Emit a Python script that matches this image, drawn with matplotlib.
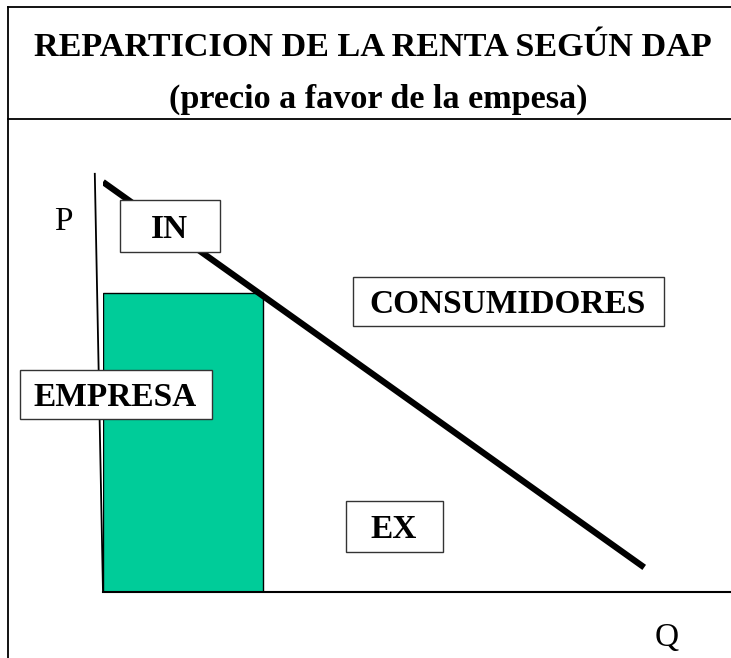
import matplotlib
matplotlib.use("Agg")
import matplotlib.pyplot as plt
from matplotlib.patches import Rectangle
from matplotlib.lines import Line2D

# ---- data (economic units) ----
demand_q = [0.0, 13.2]
demand_p = [10.0, 0.6]
price_star = 7.3
quantity_star = 3.9
axis_top = (-0.2, 10.2)

title_lines = ["REPARTICION DE LA RENTA SEGÚN DAP", "(precio a favor de la empesa)"]
labels = ["IN", "CONSUMIDORES", "EMPRESA", "EX"]

W, H = 731, 658
fig = plt.figure(figsize=(W / 100, H / 100), dpi=100)
fig.patch.set_facecolor("white")
FONT = "Liberation Serif"

def fx(px):
    return px / W

def fy(py):
    return 1 - py / H

# frame
fig.add_artist(Line2D([fx(8), fx(8)], [fy(7), fy(658)], color="black", lw=1.3))
fig.add_artist(Line2D([fx(8), fx(731)], [fy(7), fy(7)], color="black", lw=1.3))
fig.add_artist(Line2D([fx(8), fx(731)], [fy(119), fy(119)], color="black", lw=1.3))

fig.text(fx(373), fy(47), title_lines[0], ha="center", va="center",
         fontfamily=FONT, fontweight="bold", fontsize=24.6)
fig.text(fx(378), fy(99), title_lines[1], ha="center", va="center",
         fontfamily=FONT, fontweight="bold", fontsize=24.6)

# chart axes: origin at pixel (103, 592), 41 px per unit
ppu = 41.0
x0, y0 = 103, 592
ax = fig.add_axes([fx(x0), fy(y0), (W - x0) / W, (y0 - 120) / H])
ax.set_xlim(0, (W - x0) / ppu)
ax.set_ylim(0, (y0 - 120) / ppu)
ax.axis("off")

ax.add_patch(Rectangle((0, 0), quantity_star, price_star, facecolor="#00CC99",
                       edgecolor="black", lw=1.0, zorder=2))
ax.plot([axis_top[0], 0], [axis_top[1], 0], color="black", lw=1.3, clip_on=False, zorder=3)
ax.plot([0, (W - x0) / ppu], [0, 0], color="black", lw=1.5, clip_on=False, zorder=3)
ax.plot(demand_q, demand_p, color="black", lw=4.5, solid_capstyle="butt", zorder=3)

# label boxes (pixel boxes: x0, y0, x1, y1)
boxes = [(120, 200, 220, 252), (353, 277, 664, 326), (20, 370, 212, 419), (346, 501, 443, 552)]
for (bx0, by0, bx1, by1), lab in zip(boxes, labels):
    fig.add_artist(Rectangle((fx(bx0), fy(by1)), fx(bx1 - bx0), (by1 - by0) / H,
                             facecolor="white", edgecolor="#333333", lw=1.0, zorder=5))
    fig.text(fx((bx0 + bx1) / 2 - 1), fy((by0 + by1) / 2 + 3), lab, ha="center", va="center",
             fontfamily=FONT, fontweight="bold", fontsize=24, zorder=6)

fig.text(fx(63), fy(222), "P", ha="center", va="center", fontfamily=FONT, fontsize=24)
fig.text(fx(667), fy(638), "Q", ha="center", va="center", fontfamily=FONT, fontsize=24)

fig.savefig("out.png", dpi=100)
